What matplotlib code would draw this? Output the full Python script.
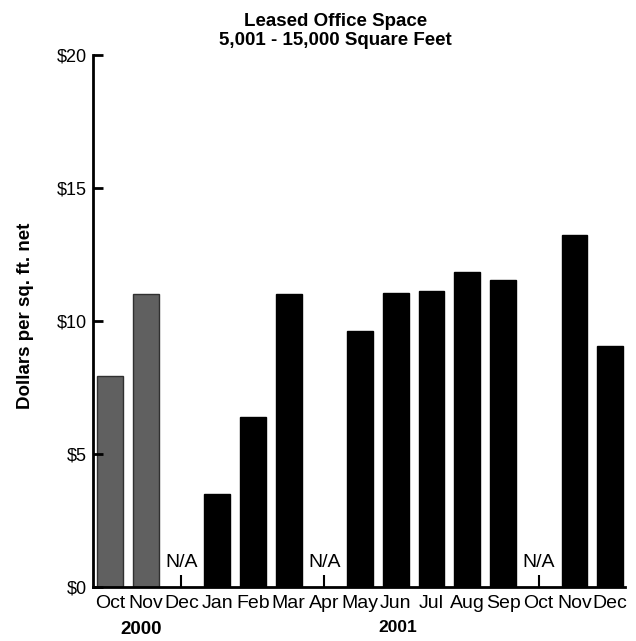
import numpy as np
import matplotlib
matplotlib.use('Agg')
import matplotlib.pyplot as plt

plt.rcParams['font.family'] = ['Liberation Sans', 'DejaVu Sans']

months = ['Oct', 'Nov', 'Dec', 'Jan', 'Feb', 'Mar', 'Apr', 'May',
          'Jun', 'Jul', 'Aug', 'Sep', 'Oct', 'Nov', 'Dec']
# None marks months with no data (N/A)
values = [7.95, 11.0, None, 3.5, 6.4, 11.0, None, 9.62,
          11.05, 11.13, 11.84, 11.54, None, 13.23, 9.06]
years = ['2000'] * 3 + ['2001'] * 12
y_ticks = [0, 5, 10, 15, 20]
y_labels = ['$0', '$5', '$10', '$15', '$20']

fig = plt.figure(figsize=(6.36, 6.41), dpi=100)
ax = fig.add_axes([0.146, 0.0842, 0.837, 0.8298])

x = np.arange(len(months))
for k, v in enumerate(values):
    if v is None:
        ax.plot([k, k], [0, 0.45], color='black', lw=1.5, solid_capstyle='butt')
        ax.text(k, 0.6, 'N/A', ha='center', va='bottom', fontsize=14)
        continue
    colour = '#606060' if years[k] == '2000' else 'black'
    edge = '#303030' if years[k] == '2000' else 'black'
    ax.bar(k, v, width=0.72, color=colour, edgecolor=edge, linewidth=1)

ax.set_xlim(-0.48, 14.42)
ax.set_ylim(0, 20)
ax.set_yticks(y_ticks)
ax.set_yticklabels(y_labels, fontsize=13)
ax.set_xticks(x)
ax.set_xticklabels(months, fontsize=14)
ax.tick_params(axis='x', length=0, pad=6)
ax.tick_params(axis='y', direction='in', length=7, width=2, pad=4)

for side in ['top', 'right']:
    ax.spines[side].set_visible(False)
for side in ['left', 'bottom']:
    ax.spines[side].set_linewidth(2)

fig.text(26 / 636, 1 - 316 / 641, 'Dollars per sq. ft. net', rotation=90,
         ha='center', va='center', fontsize=13.5, fontweight='bold')

fig.text(0.528, 1 - 31 / 641, 'Leased Office Space\n5,001 - 15,000 Square Feet',
         ha='center', va='center', fontsize=13.5, fontweight='bold',
         linespacing=1.1)

# year labels below months
fig.text(141 / 636, 1 - 630 / 641, '2000', ha='center', va='center',
         fontsize=13.5, fontweight='bold')
fig.text(398 / 636, 1 - 628 / 641, '2001', ha='center', va='center',
         fontsize=12.5, fontweight='bold')

plt.savefig('out.png', dpi=100)
